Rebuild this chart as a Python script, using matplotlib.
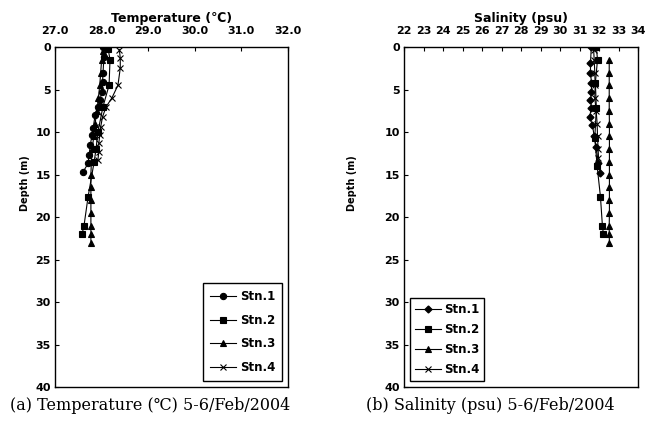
import matplotlib
matplotlib.use('Agg')
from matplotlib import pyplot as plt

# Temperature profiles (depth in m, temperature in degC)
t_d1 = [0, 1.2, 3, 4.1, 5.3, 6.2, 7, 8, 9.5, 10.4, 11.5, 12.7, 13.7, 14.7]
t_v1 = [28.03, 28.05, 28.03, 28.02, 28.0, 27.97, 27.92, 27.86, 27.82, 27.79, 27.76, 27.73, 27.71, 27.6]
t_d2 = [0.2, 1.5, 4.5, 7, 10, 12, 13.5, 17.6, 21.1, 22]
t_v2 = [28.14, 28.18, 28.16, 28.03, 27.92, 27.88, 27.84, 27.71, 27.62, 27.58]
t_d3 = [0.5, 1.5, 3, 4.5, 6, 7.5, 9, 10.5, 12, 13.5, 15, 16.5, 18, 19.5, 21, 22, 23]
t_v3 = [28.02, 28.0, 27.98, 27.96, 27.93, 27.9, 27.86, 27.83, 27.8, 27.78, 27.77, 27.77, 27.77, 27.77, 27.77, 27.77, 27.77]
t_d4 = [0.3, 1.3, 2.5, 4.5, 6, 7, 8.2, 9.4, 10.4, 11.3, 12.3, 13.3]
t_v4 = [28.38, 28.4, 28.4, 28.35, 28.22, 28.1, 28.02, 27.98, 27.96, 27.94, 27.94, 27.92]

# Salinity profiles (depth in m, salinity in psu)
s_d1 = [0, 1.9, 3, 4.2, 5.3, 6.2, 7.2, 8.2, 9.2, 10.5, 11.8, 13.6, 14.8]
s_v1 = [31.6, 31.56, 31.56, 31.61, 31.61, 31.56, 31.61, 31.51, 31.66, 31.75, 31.85, 31.96, 32.07]
s_d2 = [0, 1.5, 4.2, 7.2, 10.7, 14, 17.6, 21, 22]
s_v2 = [31.86, 31.92, 31.81, 31.86, 31.78, 31.9, 32.07, 32.17, 32.22]
s_d3 = [1.5, 3, 4.5, 6, 7.5, 9, 10.5, 12, 13.5, 15, 16.5, 18, 19.5, 21, 22, 23]
s_v3 = [32.52, 32.52, 32.52, 32.52, 32.52, 32.53, 32.53, 32.53, 32.53, 32.53, 32.53, 32.53, 32.53, 32.52, 32.52, 32.53]
s_d4 = [0.3, 1.5, 3, 4.5, 6, 7.5, 9, 10.5, 12, 13]
s_v4 = [31.72, 31.75, 31.78, 31.8, 31.78, 31.85, 31.9, 31.92, 31.95, 31.97]

stations = ['Stn.1', 'Stn.2', 'Stn.3', 'Stn.4']
t_ticks = [27.0, 28.0, 29.0, 30.0, 31.0, 32.0]
s_ticks = list(range(22, 35))
depth_ticks = [0, 5, 10, 15, 20, 25, 30, 35, 40]

fig = plt.figure(figsize=(6.48, 4.25), dpi=100)
ax1 = fig.add_axes([0.0849, 0.0894, 0.3596, 0.8])
ax2 = fig.add_axes([0.6235, 0.0894, 0.3612, 0.8])

bold = dict(fontweight='bold', fontsize=8)


def style(ax, ticks, fmt, xlabel, ylab_x):
    ax.set_ylim(40, 0)
    ax.set_xlim(ticks[0], ticks[-1])
    ax.set_xticks(ticks)
    ax.set_xticklabels([fmt(t) for t in ticks], **bold)
    ax.set_yticks(depth_ticks)
    ax.set_yticklabels([str(d) for d in depth_ticks], **bold)
    ax.xaxis.tick_top()
    ax.xaxis.set_label_position('top')
    ax.tick_params(axis='both', direction='in', length=3, width=0.8, pad=3)
    ax.tick_params(axis='x', pad=8)
    ax.set_xlabel(xlabel, fontweight='bold', fontsize=9, labelpad=3,
                  family=['DejaVu Sans', 'Noto Sans CJK JP'])
    ax.set_ylabel('Depth (m)', fontweight='bold', fontsize=7)
    ax.yaxis.set_label_coords(ylab_x, 0.6)
    for s in ax.spines.values():
        s.set_linewidth(1.0)


kw = dict(color='black', lw=0.8, markersize=4.5, mew=0.8)
ax1.plot(t_v1, t_d1, marker='o', label=stations[0], **kw)
ax1.plot(t_v2, t_d2, marker='s', label=stations[1], **kw)
ax1.plot(t_v3, t_d3, marker='^', label=stations[2], **kw)
ax1.plot(t_v4, t_d4, marker='x', label=stations[3], **kw)
style(ax1, t_ticks, lambda t: '%.1f' % t, 'Temperature (℃)', -0.107)
ax1.legend(loc='lower right', prop={'weight': 'bold', 'size': 8.5}, fancybox=False,
           edgecolor='black', borderpad=0.6, labelspacing=0.9, handlelength=2.2,
           handletextpad=0.3, framealpha=1)

ax2.plot(s_v1, s_d1, marker='D', markersize=3.5, color='black', lw=0.8, label=stations[0])
ax2.plot(s_v2, s_d2, marker='s', label=stations[1], **kw)
ax2.plot(s_v3, s_d3, marker='^', label=stations[2], **kw)
ax2.plot(s_v4, s_d4, marker='x', label=stations[3], **kw)
style(ax2, s_ticks, lambda t: '%d' % t, 'Salinity (psu)', -0.2)
ax2.legend(loc='lower left', prop={'weight': 'bold', 'size': 8.5}, fancybox=False,
           edgecolor='black', borderpad=0.4, labelspacing=0.6, handlelength=2.2,
           handletextpad=0.3, framealpha=1)

cap = dict(fontsize=11.5, ha='center', va='center', family=['DejaVu Serif', 'Noto Sans CJK JP'])
fig.text(150 / 648, 1 - 405 / 425, '(a) Temperature (℃) 5-6/Feb/2004', **cap)
fig.text(490 / 648, 1 - 405 / 425, '(b) Salinity (psu) 5-6/Feb/2004', **cap)

fig.savefig('out.png', dpi=100)
